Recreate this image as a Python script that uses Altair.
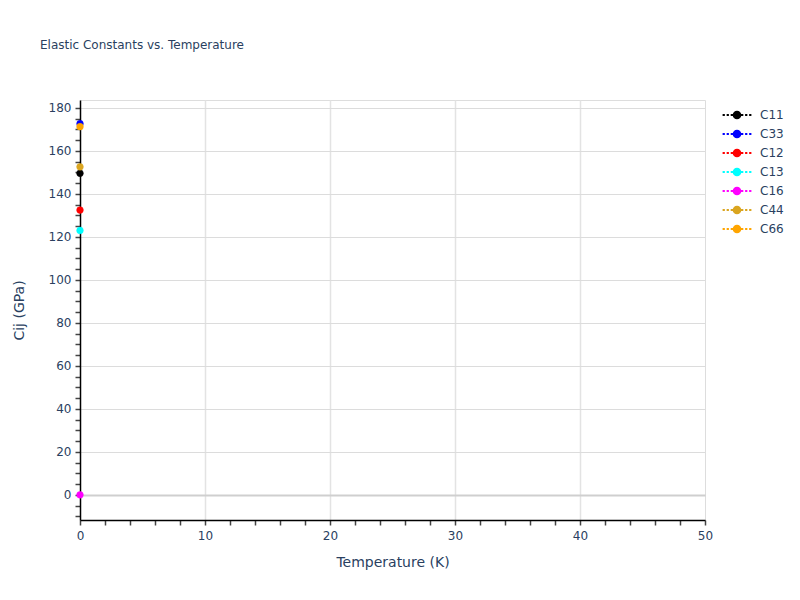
import altair as alt
import pandas as pd

series = ["C11", "C33", "C12", "C13", "C16", "C44", "C66"]
temperature = [0, 0, 0, 0, 0, 0, 0]
cij = [149.6, 172.7, 132.5, 123.0, 0.0, 152.6, 171.3]
colors = ["#000000", "#0000FF", "#FF0000", "#00FFFF", "#FF00FF", "#DAA520", "#FFA500"]

df = pd.DataFrame({"series": series, "T": temperature, "Cij": cij})

FONT = "DejaVu Sans"
TXT = "#2a3f5f"

# legend glyph: dotted line with a dot in the middle (unit coords, scaled by sqrt(size)/2)
legend_path = ("M-1.6,0H-1.35M-1.15,0H-0.9M-0.7,0H-0.45"
               "M-0.38,0A0.38,0.38 0 1 1 0.38,0A0.38,0.38 0 1 1 -0.38,0Z"
               "M0.45,0H0.7M0.9,0H1.15M1.35,0H1.6")

cscale = alt.Scale(domain=series, range=colors)

xaxis = alt.Axis(
    values=list(range(0, 51, 2)),
    labelExpr="datum.value % 10 === 0 ? datum.label : ''",
    labelFlush=False,
    grid=True,
    gridOpacity={"condition": {"test": "datum.value % 10 === 0 && datum.value > 0 && datum.value < 50", "value": 1}, "value": 0},
    gridColor="#e3e3e3", gridWidth=1.5,
    domainColor="#000000", domainWidth=1.5,
    tickColor="#444444", tickSize=5, tickWidth=1.5,
    labelFont=FONT, labelFontSize=12, labelColor=TXT, labelPadding=5,
    title="Temperature (K)", titleFont=FONT, titleFontSize=14, titleFontWeight="normal",
    titleColor=TXT, titlePadding=14,
)
yaxis = alt.Axis(
    values=list(range(-10, 181, 5)),
    labelExpr="datum.value % 20 === 0 && datum.value >= 0 ? datum.label : ''",
    labelFlush=False,
    grid=True,
    gridOpacity={"condition": {"test": "datum.value % 20 === 0 && datum.value >= 0", "value": 1}, "value": 0},
    gridColor={"condition": {"test": "datum.value === 0", "value": "#cfcfcf"}, "value": "#dcdcdc"},
    gridWidth={"condition": {"test": "datum.value === 0", "value": 2}, "value": 1},
    domainColor="#000000", domainWidth=1.5,
    tickColor="#444444", tickSize=5, tickWidth=1.5,
    labelFont=FONT, labelFontSize=12, labelColor=TXT, labelPadding=4,
    title="Cij (GPa)", titleFont=FONT, titleFontSize=14, titleFontWeight="normal",
    titleColor=TXT, titlePadding=22,
)

legend = alt.Legend(
    title=None, orient="none", legendX=647, legendY=5,
    symbolType=legend_path, symbolSize=324, symbolStrokeWidth=1.8,
    labelFont=FONT, labelFontSize=12, labelColor=TXT, rowPadding=1, labelOffset=13,
)

x = alt.X("T:Q", scale=alt.Scale(domain=[0, 50], nice=False), axis=xaxis)
y = alt.Y("Cij:Q", scale=alt.Scale(domain=[-11.7, 183.7], nice=False, zero=False), axis=yaxis)

lines = alt.Chart(df).mark_line(strokeDash=[2, 3], strokeWidth=2).encode(
    x=x, y=y,
    color=alt.Color("series:N", scale=cscale, legend=legend, sort=series),
    stroke=alt.Stroke("series:N", scale=cscale, legend=legend, sort=series),
)
points = alt.Chart(df).mark_point(filled=True, size=45, strokeWidth=0.5, opacity=1, clip=False).encode(
    x=x, y=y,
    color=alt.Color("series:N", scale=cscale, legend=legend, sort=series),
    stroke=alt.Stroke("series:N", scale=cscale, legend=legend, sort=series),
)

chart = alt.layer(lines, points).properties(
    width=625, height=420,
    autosize=alt.AutoSizeParams(type="none"),
    padding={"left": 72, "top": 92, "right": 87, "bottom": 72},
    title=alt.TitleParams(
        "Elastic Constants vs. Temperature", anchor="start", frame="group",
        font=FONT, fontSize=12, fontWeight="normal", color=TXT, offset=48, dx=-40,
    ),
).configure_view(stroke=None).configure(background="white")

chart.save("out.html", embed_options={"renderer": "svg", "actions": False})
